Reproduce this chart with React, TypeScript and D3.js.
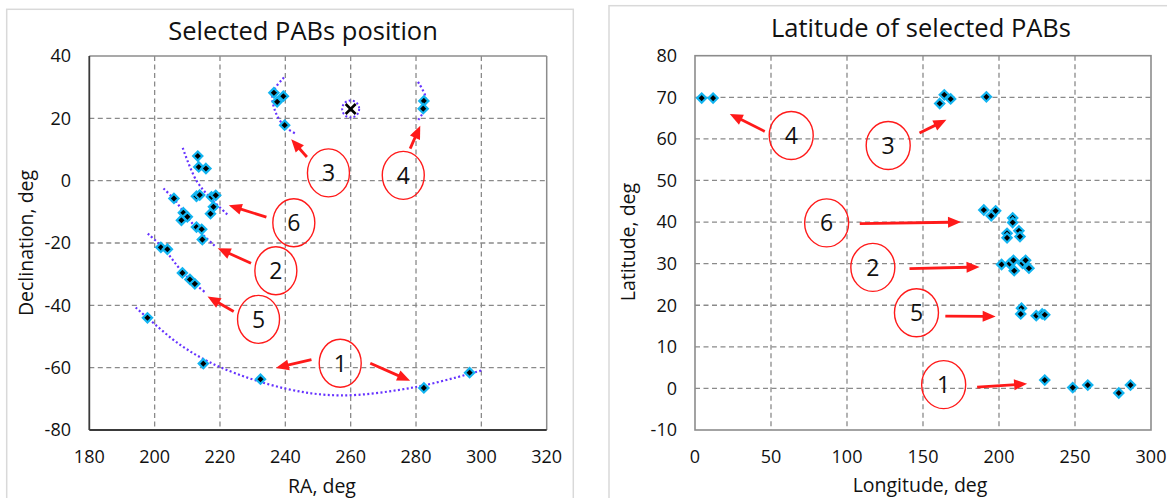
import React from "react";
import * as d3 from "d3";

// ---------- Left chart data: RA / Declination ----------
const raTicks = [180, 200, 220, 240, 260, 280, 300, 320];
const decTicks = [-80, -60, -40, -20, 0, 20, 40];

const leftGroup1: [number, number][] = [[197.8, -44], [214.9, -58.7], [232.4, -63.7], [282.4, -66.5], [296.4, -61.6]];
const leftGroup5: [number, number][] = [[201.9, -21.4], [203.9, -22], [208.5, -29.6], [210.8, -31.7], [212.3, -33.1]];
const leftGroup2: [number, number][] = [[205.9, -5.7], [208.8, -10.3], [210, -11.6], [208.2, -12.7], [212.8, -14.9], [214.4, -15.6], [214.6, -18.9]];
const leftGroup6: [number, number][] = [[213.2, 7.9], [213.5, 4.4], [215.7, 3.9], [212.8, -5], [213.8, -4.6], [217.4, -5.2], [218.7, -4.7], [218, -8.4], [217.1, -10.6]];
const leftGroup3: [number, number][] = [[236.5, 28.2], [239.4, 27.1], [237.5, 25.3], [239.8, 17.8]];
const leftGroup4: [number, number][] = [[282.4, 25.6], [282.2, 23.1]];

const curve1: [number, number][] = [[194.2, -40.7], [197.8, -44], [208, -52.8], [220, -59.8], [240, -66.7], [257, -68.9], [280, -66.2], [300, -60.9]];
const curve5: [number, number][] = [[197.9, -17], [202.5, -21.5], [208.5, -29.3], [212, -32.8], [215.3, -35.7]];
const curve2: [number, number][] = [[202.7, -2.5], [206, -6], [209.5, -11], [213, -15.5], [218.8, -21.3]];
const curve6: [number, number][] = [[208.6, 10.5], [212.8, 0], [217.5, -6], [222.5, -11.1]];
const curve3: [number, number][] = [[239.6, 33.1], [236.1, 28], [237.2, 21.5], [240, 17.2], [243.1, 15.1]];
const curve4: [number, number][] = [[280.6, 31.7], [282.9, 26.9], [282.5, 22.6], [280.2, 18.8]];
const crossMark: [number, number] = [260, 23];

// labels: [label, centerX, centerY, arrowFromX, arrowFromY, arrowToX, arrowToY]
const leftLabels: [string, number, number, number, number, number, number][] = [
  ["3", 253.2, 2.5, 246.6, 7.6, 241.8, 13.3],
  ["4", 276.1, 1.7, 278.2, 10.3, 281.3, 17.6],
  ["6", 242.6, -13.5, 234.2, -11.7, 222.7, -7.9],
  ["2", 237.1, -28.9, 229.5, -26.5, 219.3, -21.7],
  ["5", 231.8, -44.5, 224.2, -42, 216.2, -37.2],
  ["1", 256.8, -58.6, 248, -57.4, 237.1, -60.1],
];
const leftExtraArrows: [number, number, number, number][] = [[266, -58.6, 278.2, -64.2]];

// ---------- Right chart data: Longitude / Latitude ----------
const lonTicks = [0, 50, 100, 150, 200, 250, 300];
const latTicks = [-10, 0, 10, 20, 30, 40, 50, 60, 70, 80];

const rightGroup1: [number, number][] = [[230.1, 2.0], [248.5, 0.2], [258.4, 0.8], [278.8, -1.1], [286.5, 0.8]];
const rightGroup5: [number, number][] = [[214.8, 19.3], [214.3, 17.9], [224.5, 17.5], [228.4, 17.9], [230.1, 17.7]];
const rightGroup2: [number, number][] = [[201.7, 29.8], [207, 30], [209.5, 30.8], [210, 28.3], [215.5, 30.1], [217.5, 30.8], [219.7, 28.9]];
const rightGroup6: [number, number][] = [[190, 42.9], [194.9, 41.5], [197.8, 42.7], [209, 41], [209, 39.9], [213.1, 37.9], [213.8, 36.5], [205.3, 37.3], [205.3, 36.2]];
const rightGroup3: [number, number][] = [[161, 68.5], [164, 70.6], [168.2, 69.6], [191.7, 70.1]];
const rightGroup4: [number, number][] = [[4.4, 69.8], [11.9, 69.8]];

const rightLabels: [string, number, number, number, number, number, number][] = [
  ["4", 63.3, 60.8, 45.9, 61.8, 22.9, 66],
  ["3", 127.1, 58.4, 147.7, 61.4, 165.4, 64.6],
  ["6", 86.6, 39.8, 108.4, 39.6, 175, 40],
  ["2", 117, 29.1, 141.1, 28.8, 187.2, 29.2],
  ["5", 145.7, 18.2, 164.7, 17.4, 197.8, 17.3],
  ["1", 163.6, 0.9, 185.6, 0.3, 218.5, 1.1],
];

const FONT = "'Open Sans', 'DejaVu Sans', sans-serif";
const RED = "#ff1a1a";
const PURPLE = "#6633ff";
const GRID = "#8a8a8a";
const TICK_FS = 18;
const AXIS_FS = 19.5;
const TITLE_FS = 25.5;

function Diamond({ x, y }: { x: number; y: number }) {
  const r = 4.6;
  return (
    <path
      d={`M${x},${y - r}L${x + r},${y}L${x},${y + r}L${x - r},${y}Z`}
      fill="#000"
      stroke="#12b4f0"
      strokeWidth={2.2}
    />
  );
}

function Arrow({ x1, y1, x2, y2 }: { x1: number; y1: number; x2: number; y2: number }) {
  const ang = Math.atan2(y2 - y1, x2 - x1);
  const hl = 13, hw = 5.5;
  const bx = x2 - hl * Math.cos(ang), by = y2 - hl * Math.sin(ang);
  const px = -Math.sin(ang), py = Math.cos(ang);
  return (
    <g>
      <line x1={x1} y1={y1} x2={bx + 2 * Math.cos(ang)} y2={by + 2 * Math.sin(ang)} stroke={RED} strokeWidth={2.8} />
      <path d={`M${x2},${y2}L${bx + hw * px},${by + hw * py}L${bx - hw * px},${by - hw * py}Z`} fill={RED} />
    </g>
  );
}

function Label({ x, y, text, rx }: { x: number; y: number; text: string; rx: number }) {
  return (
    <g>
      <ellipse cx={x} cy={y} rx={rx} ry={24} fill="none" stroke={RED} strokeWidth={1.4} />
      <text x={x} y={y} dy="0.36em" textAnchor="middle" fontFamily={FONT} fontSize={23} fill="#111">
        {text}
      </text>
    </g>
  );
}

function LeftChart() {
  const x = d3.scaleLinear().domain([180, 320]).range([89.3, 546.7]);
  const y = d3.scaleLinear().domain([-80, 40]).range([430, 56]);
  const line = d3.line<[number, number]>().x((d) => x(d[0])).y((d) => y(d[1])).curve(d3.curveCatmullRom.alpha(0.5));
  const groups = [leftGroup1, leftGroup5, leftGroup2, leftGroup6, leftGroup3, leftGroup4];
  const curves = [curve1, curve5, curve2, curve6, curve3, curve4];
  const [x0, x1] = x.range();
  const [y0, y1] = y.range();
  return (
    <g>
      <rect x={6.7} y={9.3} width={566.6} height={500} fill="#fff" stroke="#d9d9d9" strokeWidth={1.5} />
      <text x={303} y={31} dy="0.35em" textAnchor="middle" fontFamily={FONT} fontSize={TITLE_FS} fill="#111">
        Selected PABs position
      </text>
      {raTicks.slice(1, -1).map((t) => (
        <line key={"gx" + t} x1={x(t)} x2={x(t)} y1={y1} y2={y0} stroke={GRID} strokeWidth={1.3} strokeDasharray="5,3.5" />
      ))}
      {decTicks.slice(1, -1).map((t) => (
        <line key={"gy" + t} x1={x0} x2={x1} y1={y(t)} y2={y(t)} stroke={GRID} strokeWidth={1.3} strokeDasharray="5,3.5" />
      ))}
      <line x1={x0} x2={x1} y1={y1} y2={y1} stroke="#8c8c8c" strokeWidth={1.5} />
      <line x1={x1} x2={x1} y1={y1} y2={y0} stroke="#8c8c8c" strokeWidth={1.5} />
      <line x1={x0} x2={x0} y1={y1} y2={y0} stroke="#3a3a3a" strokeWidth={1.8} />
      <line x1={x0} x2={x1} y1={y0} y2={y0} stroke="#3a3a3a" strokeWidth={1.8} />
      {raTicks.map((t) => (
        <text key={"tx" + t} x={x(t)} y={457} dy="0.35em" textAnchor="middle" fontFamily={FONT} fontSize={TICK_FS} fill="#111">
          {t}
        </text>
      ))}
      {decTicks.map((t) => (
        <text key={"ty" + t} x={71} y={y(t)} dy="0.35em" textAnchor="end" fontFamily={FONT} fontSize={TICK_FS} fill="#111">
          {t}
        </text>
      ))}
      <text x={322} y={486} dy="0.35em" textAnchor="middle" fontFamily={FONT} fontSize={AXIS_FS} fill="#111">
        RA, deg
      </text>
      <text transform={`translate(26,243) rotate(-90)`} dy="0.35em" textAnchor="middle" fontFamily={FONT} fontSize={AXIS_FS} fill="#111">
        Declination, deg
      </text>
      {curves.map((c, i) => (
        <path key={"c" + i} d={line(c) || ""} fill="none" stroke={PURPLE} strokeWidth={2.2} strokeDasharray="2,2.4" />
      ))}
      <circle cx={x(crossMark[0])} cy={y(crossMark[1])} r={8.5} fill="none" stroke={PURPLE} strokeWidth={2} strokeDasharray="2,2.2" />
      <g stroke="#000" strokeWidth={2.6}>
        <line x1={x(crossMark[0]) - 5} y1={y(crossMark[1]) - 5} x2={x(crossMark[0]) + 5} y2={y(crossMark[1]) + 5} />
        <line x1={x(crossMark[0]) - 5} y1={y(crossMark[1]) + 5} x2={x(crossMark[0]) + 5} y2={y(crossMark[1]) - 5} />
      </g>
      {groups.map((g, gi) => g.map((d, i) => <Diamond key={gi + "-" + i} x={x(d[0])} y={y(d[1])} />))}
      {leftLabels.map((l) => (
        <g key={"l" + l[0]}>
          <Arrow x1={x(l[3])} y1={y(l[4])} x2={x(l[5])} y2={y(l[6])} />
          <Label x={x(l[1])} y={y(l[2])} text={l[0]} rx={21} />
        </g>
      ))}
      {leftExtraArrows.map((a, i) => (
        <Arrow key={"ea" + i} x1={x(a[0])} y1={y(a[1])} x2={x(a[2])} y2={y(a[3])} />
      ))}
    </g>
  );
}

function RightChart() {
  const x = d3.scaleLinear().domain([0, 300]).range([695, 1151]);
  const y = d3.scaleLinear().domain([-10, 80]).range([430, 55.7]);
  const groups = [rightGroup1, rightGroup5, rightGroup2, rightGroup6, rightGroup3, rightGroup4];
  const [x0, x1] = x.range();
  const [y0, y1] = y.range();
  return (
    <g>
      <rect x={609} y={5.7} width={600} height={500} fill="#fff" stroke="#d9d9d9" strokeWidth={1.5} />
      <text x={921} y={28.5} dy="0.35em" textAnchor="middle" fontFamily={FONT} fontSize={TITLE_FS} fill="#111">
        Latitude of selected PABs
      </text>
      {lonTicks.slice(1, -1).map((t) => (
        <line key={"gx" + t} x1={x(t)} x2={x(t)} y1={y1} y2={y0} stroke={GRID} strokeWidth={1.3} strokeDasharray="5,3.5" />
      ))}
      {latTicks.slice(1, -1).map((t) => (
        <line key={"gy" + t} x1={x0} x2={x1} y1={y(t)} y2={y(t)} stroke={GRID} strokeWidth={1.3} strokeDasharray="5,3.5" />
      ))}
      <rect x={x0} y={y1} width={x1 - x0} height={y0 - y1} fill="none" stroke="#8c8c8c" strokeWidth={1.6} />
      {lonTicks.map((t) => (
        <text key={"tx" + t} x={x(t)} y={457} dy="0.35em" textAnchor="middle" fontFamily={FONT} fontSize={TICK_FS} fill="#111">
          {t}
        </text>
      ))}
      {latTicks.map((t) => (
        <text key={"ty" + t} x={677} y={y(t)} dy="0.35em" textAnchor="end" fontFamily={FONT} fontSize={TICK_FS} fill="#111">
          {t}
        </text>
      ))}
      <text x={920} y={485} dy="0.35em" textAnchor="middle" fontFamily={FONT} fontSize={AXIS_FS} fill="#111">
        Longitude, deg
      </text>
      <text transform={`translate(628,242) rotate(-90)`} dy="0.35em" textAnchor="middle" fontFamily={FONT} fontSize={AXIS_FS} fill="#111">
        Latitude, deg
      </text>
      {groups.map((g, gi) => g.map((d, i) => <Diamond key={gi + "-" + i} x={x(d[0])} y={y(d[1])} />))}
      {rightLabels.map((l) => (
        <g key={"r" + l[0]}>
          <Arrow x1={x(l[3])} y1={y(l[4])} x2={x(l[5])} y2={y(l[6])} />
          <Label x={x(l[1])} y={y(l[2])} text={l[0]} rx={22} />
        </g>
      ))}
    </g>
  );
}

export default function App() {
  return (
    <div style={{ position: "absolute", left: 0, top: 0 }}>
      <svg width={1167} height={498} viewBox="0 0 1167 498" style={{ display: "block", background: "#fff" }}>
        <LeftChart />
        <RightChart />
      </svg>
    </div>
  );
}
